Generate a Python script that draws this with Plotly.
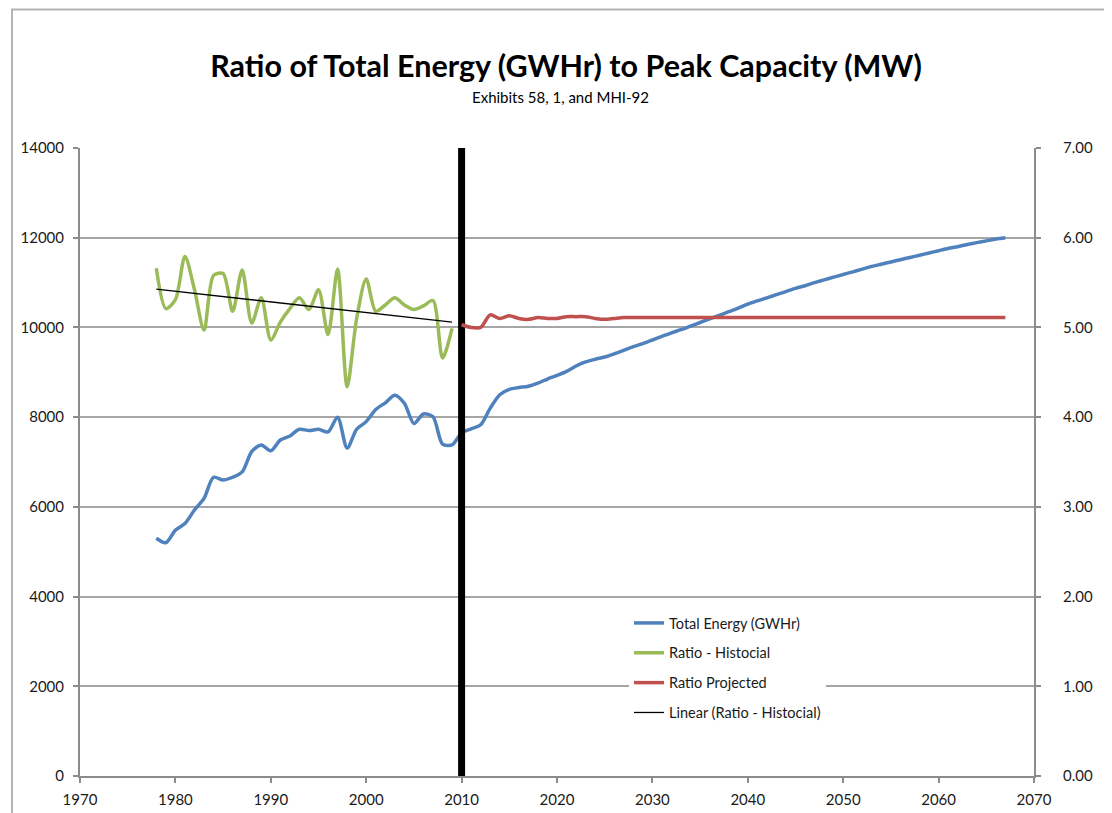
import numpy as np
import plotly.graph_objects as go

# ---------------- data ----------------
hist_years = list(range(1978, 2010))
ratio_hist = [5.66, 5.21, 5.31, 5.79, 5.42, 4.97, 5.58, 5.60, 5.18, 5.64,
              5.05, 5.33, 4.86, 5.06, 5.21, 5.33, 5.20, 5.42, 4.92, 5.65,
              4.34, 5.10, 5.54, 5.18, 5.25, 5.33, 5.25, 5.20, 5.24, 5.30,
              4.66, 4.99]

energy_years = list(range(1978, 2068))
total_energy = [5300, 5200, 5480, 5630, 5930, 6190, 6660, 6600, 6660, 6780,
                7230, 7380, 7250, 7490, 7580, 7730, 7700, 7730, 7670, 8000,
                7310, 7730, 7900, 8170, 8320, 8490, 8310, 7860, 8070, 8010,
                7400, 7380,
                7650, 7740, 7830, 8200, 8500, 8620, 8660, 8690, 8760, 8850,
                8930, 9020, 9140, 9230, 9290, 9340, 9410, 9490, 9570, 9640,
                9720, 9800, 9880, 9950, 10030, 10110, 10190, 10270, 10350, 10430,
                10520, 10590, 10660, 10730, 10800, 10870, 10930, 11000, 11060, 11120,
                11180, 11240, 11300, 11360, 11410, 11460, 11510, 11560, 11610, 11660,
                11710, 11760, 11800, 11850, 11890, 11930, 11970, 12000]

proj_years = list(range(2010, 2068))
ratio_proj = [5.03, 5.00, 5.00, 5.14, 5.10, 5.13, 5.10, 5.09, 5.11, 5.10,
              5.10, 5.12, 5.12, 5.12, 5.10, 5.09, 5.10] + [5.11] * 41

divider_year = [2010, 2010]
divider_span = [0, 14000]

left_ticks = [0, 2000, 4000, 6000, 8000, 10000, 12000, 14000]
right_ticks = [0, 1, 2, 3, 4, 5, 6, 7]
x_ticks = list(range(1970, 2071, 10))

# linear trendline of historical ratio (as Excel computes it)
coef = np.polyfit(hist_years, ratio_hist, 1)
trend_years = [hist_years[0], hist_years[-1]]
trend_vals = [float(np.polyval(coef, y)) for y in trend_years]

# ---------------- figure ----------------
FONT = "Lato"
BLUE = "#4F81BD"
GREEN = "#9BBB59"
RED = "#C0504D"
GRID = "#a6a6a6"
AXIS = "#8c8c8c"
TXT = "#1a1a1a"

fig = go.Figure()
fig.add_trace(go.Scatter(x=energy_years, y=total_energy, name="Total Energy (GWHr)",
                         mode="lines", line=dict(color=BLUE, width=3.5, shape="spline", smoothing=0.8),
                         legendgroup="a", yaxis="y"))
fig.add_trace(go.Scatter(x=hist_years, y=ratio_hist, name="Ratio - Histocial",
                         mode="lines", line=dict(color=GREEN, width=3.5, shape="spline", smoothing=0.8),
                         legendgroup="b", yaxis="y2"))
fig.add_trace(go.Scatter(x=proj_years, y=ratio_proj, name="Ratio Projected",
                         mode="lines", line=dict(color=RED, width=3.5, shape="spline", smoothing=0.8),
                         legendgroup="c", yaxis="y2"))
fig.add_trace(go.Scatter(x=trend_years, y=trend_vals, name="Linear (Ratio - Histocial)",
                         mode="lines", line=dict(color="#000000", width=1.3),
                         legendgroup="d", yaxis="y2"))
fig.add_trace(go.Scatter(x=divider_year, y=divider_span, mode="lines",
                         line=dict(color="#000000", width=7), showlegend=False,
                         hoverinfo="skip", yaxis="y"))

# page has an 8px body margin; figure sits at (8, 8)
OFF = 8
W, H = 1104, 805
ml, mr, mt, mb = 72, 78, 140, 37
pw, ph = W - ml - mr, H - mt - mb

def px_x(p):
    return (p - OFF - ml) / pw

def px_y(p):
    return (H - mb - (p - OFF)) / ph

fig.update_layout(
    width=W, height=H,
    margin=dict(l=ml, r=mr, t=mt, b=mb, autoexpand=False),
    paper_bgcolor="white", plot_bgcolor="white",
    font=dict(family=FONT, size=15, color=TXT),
    title=dict(text="<b>Ratio of Total Energy (GWHr) to Peak Capacity (MW)</b>",
               x=(566 - OFF) / W, xanchor="center", y=1 - (66 - OFF) / H, yanchor="middle",
               font=dict(family=FONT, size=30.5, color="#000000")),
    annotations=[dict(text="Exhibits 58, 1, and MHI-92", xref="paper", yref="paper",
                      x=px_x(560), y=px_y(97), xanchor="center", yanchor="middle",
                      showarrow=False, font=dict(family=FONT, size=15, color="#000000"))],
    xaxis=dict(range=[1970, 2070], tickvals=x_ticks, showgrid=False, zeroline=False,
               showline=True, linecolor=AXIS, linewidth=2, ticks="outside", ticklen=5,
               tickcolor=AXIS, tickwidth=1.5, ticklabelstandoff=4, automargin=False,
               tickfont=dict(size=15, color=TXT)),
    yaxis=dict(range=[0, 14000], tickvals=left_ticks, tickformat="d", showgrid=True,
               gridcolor=GRID, gridwidth=1.5, zeroline=False, showline=True,
               linecolor=AXIS, linewidth=2, ticks="outside", ticklen=5, tickcolor=AXIS,
               tickwidth=1.5, ticklabelstandoff=6, automargin=False,
               tickfont=dict(size=15, color=TXT)),
    yaxis2=dict(range=[0, 7], tickvals=right_ticks, tickformat=".2f", overlaying="y",
                side="right", showgrid=False, zeroline=False, showline=True,
                linecolor=AXIS, linewidth=2, ticks="outside", ticklen=5, tickcolor=AXIS,
                tickwidth=1.5, ticklabelstandoff=19, automargin=False,
                tickfont=dict(size=15, color=TXT)),
    legend=dict(x=px_x(629), y=px_y(607), xanchor="left", yanchor="top",
                bgcolor="white", borderwidth=0, traceorder="grouped", tracegroupgap=8,
                font=dict(family=FONT, size=14.5, color=TXT)),
    shapes=[dict(type="rect", xref="paper", yref="paper",
                 x0=px_x(12), x1=px_x(1140), y0=px_y(840), y1=px_y(9.5),
                 line=dict(color="#b5b5b5", width=2), fillcolor="rgba(0,0,0,0)",
                 layer="below")],
    showlegend=True,
)

fig.write_html("out.html")
